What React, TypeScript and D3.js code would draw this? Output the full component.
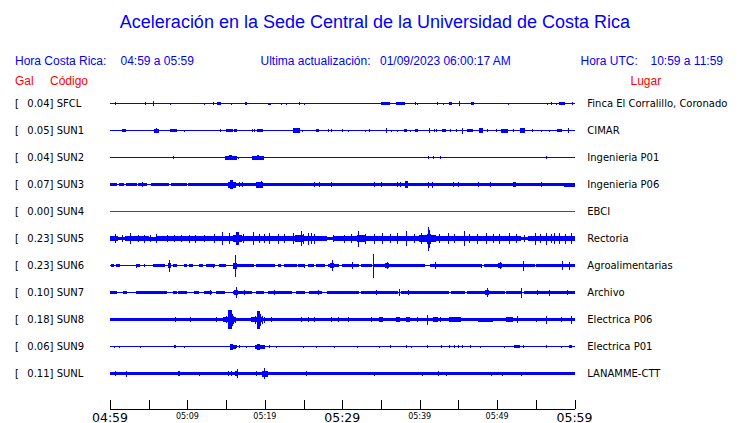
import React from "react";
import * as d3 from "d3";

// ---------- data ----------
const stationCodes = ["SFCL", "SUN1", "SUN2", "SUN3", "SUN4", "SUN5", "SUN6", "SUN7", "SUN8", "SUN9", "SUNL"];
const peakGal = [0.04, 0.05, 0.04, 0.07, 0.0, 0.23, 0.23, 0.1, 0.18, 0.06, 0.11];
const places = [
  "Finca El Corralillo, Coronado", "CIMAR", "Ingenieria P01", "Ingenieria P06", "EBCI", "Rectoria",
  "Agroalimentarias", "Archivo", "Electrica P06", "Electrica P01", "LANAMME-CTT",
];
const stationActive = [true, true, true, true, false, true, true, true, true, true, true];

// minutes after 04:59
const tickMinutes = [0, 5, 10, 15, 20, 25, 30, 35, 40, 45, 50, 55, 60];
const tickLabels = ["04:59", "", "05:09", "", "05:19", "", "05:29", "", "05:39", "", "05:49", "", "05:59"];
const majorLabels = ["04:59", "05:29", "05:59"];

// Base envelope segments: [startMin, endMin, halfAmplitude]
const sfclBase = [[0, 60, 0.5]];
const sun1Base = [[0, 60, 0.5]];
const sun2Base = [[0, 60, 0.5]];
const sun3Base = [
  [0, 0.86, 1.5], [1.29, 1.72, 1.5], [2.15, 3.44, 1.5], [3.66, 4.73, 1.5], [5.38, 5.59, 1.5],
  [5.81, 6.88, 1.5], [7.1, 7.53, 1.5], [7.96, 8.82, 1.5], [9.03, 9.89, 1.5], [10.11, 11.4, 1.5],
  [11.61, 60, 1.5],
];
const sun4Base = [[0, 60, 0.5]];
// SUN5: half-amplitude of the noise band, minute by minute
const sun5Minute = [
  2.2, 1.8, 2.5, 2.2, 2.2, 2, 2.5, 2.2, 2.2, 2.5, 2.5, 2.2, 2.2, 2.8, 2.8, 2.8, 3.5, 2.5, 2.8, 2.8,
  2.5, 2.8, 2.5, 2.8, 3.2, 2.8, 2.8, 2.2, 1.8, 2.2, 2.2, 2.5, 3.5, 2.8, 2.8, 2.8, 2.5, 2.8, 2.8, 2.5,
  3.2, 3.2, 2.5, 2.8, 2.8, 2.8, 2.5, 2.5, 2.5, 2.2, 2.5, 2.2, 2.2, 1.8, 2.2, 2.5, 2.5, 2.5, 2.5, 2.5,
];
const sun6Base = [
  [0.22, 0.43, 1.5], [0.86, 1.29, 1.5], [3.44, 3.87, 1.5], [5.59, 7.1, 1.5], [8.17, 8.6, 1.5],
  [9.68, 9.89, 1.5], [10.32, 10.62, 1.5], [11.61, 11.91, 1.5], [12.47, 13.55, 1.5], [14.19, 14.92, 1.5],
  [15.91, 16.56, 1.5], [16.77, 17.85, 1.5], [18.06, 18.49, 1.5], [18.92, 19.14, 1.5], [19.35, 19.78, 1.5],
  [20.0, 20.43, 1.5], [20.65, 21.29, 1.5], [21.72, 22.06, 1.5], [22.58, 24.09, 1.5], [24.3, 25.16, 1.5],
  [25.59, 26.24, 1.5], [26.67, 27.74, 1.5], [28.26, 29.46, 1.5], [29.98, 32.04, 1.5], [32.47, 33.76, 1.5],
  [34.19, 40.65, 1.5], [41.42, 44.09, 1.5], [44.3, 47.96, 1.5], [48.39, 53.12, 1.5], [53.33, 54.84, 1.5],
  [55.05, 60, 1.5],
];
const sun7Base = [
  [0, 0.86, 1.5], [1.72, 2.15, 1.5], [3.44, 5.59, 1.5], [5.81, 6.24, 1.5], [6.45, 7.31, 1.5],
  [8.17, 8.6, 1.5], [8.82, 9.89, 1.5], [10.97, 11.48, 1.5], [12.26, 13.12, 1.5], [13.76, 14.84, 1.5],
  [15.91, 18.28, 1.5], [18.92, 19.78, 1.5], [20.43, 23.44, 1.5], [24.09, 25.16, 1.5], [25.81, 27.31, 1.5],
  [28.09, 30.75, 1.5], [30.97, 32.04, 1.5], [32.47, 37.2, 1.5], [37.63, 42.37, 1.5], [42.58, 43.66, 1.5],
  [44.09, 45.81, 1.5], [46.24, 50.97, 1.5], [51.18, 53.12, 1.5], [53.55, 60, 1.5],
];
const sun8Base = [[0, 4.7, 1.7], [4.7, 60, 1.4]];
const sun9Base = [[0, 60, 0.5]];
const sunlBase = [[0, 60, 1.5]];

// Events: [minute, halfAmplitude, widthMinutes]
const sfclEvents = [
  [0.73, 1.2, 0], [4.6, 1.5, 0], [5.63, 2.3, 0], [7.78, 1, 0], [12.26, 1, 0], [13.33, 1.2, 0],
  [14.06, 1.3, 0.3], [15.66, 1, 0], [17.55, 1.2, 0.15], [20.6, 1, 0.15], [22.19, 1, 0], [22.75, 1, 0],
  [24.47, 1.2, 0], [25.16, 1, 0], [35.57, 1.3, 1.08], [37.55, 1.5, 1.03], [39.44, 1.2, 0], [39.78, 1, 0],
  [42.24, 1.2, 0], [43.14, 1, 0], [43.96, 1.2, 0.2], [45.2, 2.3, 0], [46.8, 1.3, 0.3], [51.53, 1, 0],
  [56.56, 1, 0], [57.08, 1.2, 0], [57.63, 1, 0], [58.37, 1.5, 0.65], [59.78, 1.2, 0],
];
const sun1Events = [
  [1.81, 1.3, 0.3], [6.02, 2, 0.6], [6.0, 2.7, 0], [8.17, 1.5, 0.8], [9.59, 1, 0], [12.26, 0.8, 0],
  [14.24, 1.5, 0], [15.48, 1.5, 0.8], [16.26, 1.3, 0.25], [18.37, 1.2, 0], [18.62, 1.2, 0], [19.35, 1.5, 0.65],
  [24.09, 2.2, 0.65], [24.82, 1, 0], [26.8, 1.3, 0.25], [28.17, 1.5, 0], [28.6, 1.5, 0], [29.98, 1.2, 0],
  [30.84, 1, 0], [32.99, 1, 0], [33.51, 1.2, 0], [35.7, 2.5, 0], [36.34, 1, 0], [37.2, 1, 0],
  [38.15, 1.3, 0.25], [38.8, 1, 0], [39.57, 1.3, 0.3], [41.29, 2.5, 0], [41.94, 1.3, 0], [42.19, 1.3, 0],
  [43.14, 1.3, 0.3], [44.0, 1.2, 0], [44.82, 1.2, 0], [45.51, 3, 0], [46.54, 1.3, 0.6], [47.96, 2.3, 0.4],
  [48.82, 1.2, 0], [49.89, 1.2, 0], [50.97, 2, 0.7], [52.13, 1.3, 0], [53.33, 2.2, 0.5], [54.54, 1.2, 0],
  [55.7, 1, 0], [56.77, 1, 0], [58.02, 1.3, 0.5], [59.27, 2.2, 0],
];
const sun2Events = [
  [8.26, 1.2, 0], [8.47, 0.8, 0], [15.61, 2, 1.5], [15.6, 2.7, 0.2], [16.65, 1, 0], [19.14, 2, 1.4],
  [19.1, 2.7, 0.2], [35.05, 0.8, 0], [41.08, 1.2, 0], [41.76, 1.2, 0], [42.71, 1.2, 0], [44.82, 0.8, 0],
  [52.6, 0.8, 0], [56.34, 1.2, 0], [58.37, 0.8, 0],
];
const sun3Events = [
  [4.2, 2.2, 0], [15.7, 3, 0.9], [15.7, 4.5, 0.25], [16.77, 2.5, 0], [17.07, 2.5, 0], [19.3, 3, 0.7],
  [19.6, 3.5, 0], [26.37, 2.5, 0], [27.1, 2.5, 0], [28.6, 2.5, 0], [34.19, 2.5, 0], [35.05, 2.5, 0],
  [37.2, 2.5, 0], [37.46, 2.5, 0], [38.28, 3.3, 0.2], [41.08, 3, 0], [41.72, 3, 0], [44.43, 2.5, 0],
  [45.03, 2.5, 0], [47.66, 2.5, 0], [49.12, 2.5, 0], [52.26, 2.3, 0.3], [55.78, 2.5, 0], [59.35, 2, 1.3],
];
const sun4Events: number[][] = [];
const sun5Events = [
  [0.65, 4.3, 0], [2.71, 5.3, 0], [3.66, 3.7, 0], [4.52, 4, 0], [6.02, 4.3, 0], [9.25, 3.7, 0],
  [10.32, 4, 0], [12.26, 3.7, 0], [14.49, 6.3, 0], [15.48, 5.3, 0], [16.47, 6.3, 0.2], [18.49, 6.3, 0],
  [19.35, 4.3, 0], [20.65, 5.7, 0], [21.72, 5, 0], [23.66, 5.7, 0], [24.73, 7.3, 0], [25.59, 6, 0],
  [26.45, 5, 0], [28.82, 3.7, 0], [32.13, 8, 0], [34.19, 5, 0], [35.14, 5.7, 0], [37.2, 5.7, 0],
  [38.28, 7.3, 0], [41.08, 12, 0], [41.29, 9, 0], [41.2, 5, 0.5], [43.66, 5.3, 0], [45.81, 7.3, 0],
  [47.53, 5, 0], [48.6, 5.7, 0], [50.32, 5, 0], [51.61, 5.3, 0], [54.97, 6, 0], [56.34, 6, 0],
  [57.42, 5.7, 0], [58.06, 5.3, 0], [59.57, 5.7, 0],
  [1.6, 3.5, 0], [5.2, 3.7, 0], [7.4, 3.5, 0], [8.3, 3.8, 0], [11.1, 4, 0], [13.5, 4.3, 0],
  [17.2, 4.5, 0], [19.9, 4.7, 0], [22.6, 4.5, 0], [25.0, 5, 0], [26.0, 5.1, 0], [30.3, 4, 0],
  [31.2, 4.3, 0], [33.0, 5, 0], [36.2, 4.5, 0], [39.3, 4.5, 0], [40.2, 5.3, 0], [42.5, 4.8, 0],
  [44.5, 4.8, 0], [46.5, 4.7, 0], [49.5, 4.3, 0], [52.5, 4.1, 0], [53.5, 3.9, 0], [55.6, 4.7, 0],
  [57.0, 4.7, 0], [58.8, 5, 0],
];
const sun6Events = [
  [3.44, 2, 0], [4.52, 1.5, 0], [7.74, 6, 0], [7.7, 2.5, 0.3], [13.33, 2, 0], [16.22, 11, 0],
  [16.2, 3, 0.4], [25.16, 2, 0], [28.73, 5.5, 0], [28.7, 2.5, 0.4], [31.27, 3.5, 0], [33.98, 12, 0],
  [35.83, 3.5, 0], [35.8, 2.2, 0.3], [42.06, 3.5, 0], [47.96, 2, 0], [50.45, 3.5, 0], [50.4, 2.3, 0.4],
  [53.46, 5, 0], [58.49, 4.5, 0], [59.35, 4, 0],
];
const sun7Events = [
  [12.95, 2.3, 0], [16.34, 5.5, 0], [16.3, 2.5, 0.4], [17.42, 2.5, 0], [21.2, 2.5, 0], [26.88, 2.3, 0],
  [34.41, 2.5, 0], [37.42, 3.3, 0], [38.58, 2.5, 0], [48.73, 4.5, 0], [48.7, 2.5, 0.4], [53.2, 5, 0],
  [55.27, 2.5, 0], [56.77, 3, 0], [59.14, 2.5, 0],
];
const sun8Events = [
  [8.52, 2.7, 0], [10.41, 2.3, 0], [13.76, 2.3, 0],
  [15.35, 2.5, 1.4], [15.48, 9.5, 0.3], [15.75, 6, 0.12], [15.95, 4, 0], [16.15, 3, 0], [15.05, 3.5, 0],
  [19.0, 2.5, 1.5], [19.14, 9, 0.25], [19.5, 6, 0], [19.7, 4, 0], [18.8, 4, 0], [19.9, 3, 0],
  [20.86, 2.3, 0], [24.73, 2.3, 0], [25.59, 2.3, 0],
  [26.45, 2.3, 0], [28.6, 2.3, 0], [29.46, 2.3, 0], [30.75, 2.3, 0], [33.76, 2.3, 0], [35.05, 2.5, 0.4],
  [37.2, 2.3, 0.5], [38.5, 2.3, 0.5], [39.78, 2.3, 0], [40.99, 5, 0], [42.0, 2.3, 0.5], [42.71, 2.3, 0],
  [44.6, 2.3, 1.4], [48.5, 2, 1.9], [51.6, 2.3, 0.8], [52.69, 3.3, 0], [55.05, 2, 0], [56.34, 4, 0],
  [58.28, 2.3, 0], [59.57, 4, 0],
];
const sun9Events = [
  [0.56, 1, 0], [1.29, 1, 0], [1.59, 0.8, 0], [3.96, 1, 0], [8.39, 1.2, 0.15], [9.59, 1, 0],
  [15.9, 2, 0.7], [15.7, 3, 0.2], [16.34, 1.3, 0], [16.77, 1.3, 0], [17.63, 1, 0], [19.35, 2, 1.2],
  [19.2, 3, 0.2], [20.56, 1.2, 0], [21.5, 1, 0], [25.03, 1, 0], [26.67, 1, 0], [28.95, 1, 0],
  [31.91, 1, 0], [34.84, 1, 0], [36.26, 1.2, 0], [38.28, 1.2, 0], [38.92, 1, 0], [40.99, 1.2, 0],
  [42.8, 1.3, 0], [43.9, 1.2, 0], [44.5, 1.2, 0], [45.0, 1.2, 0], [45.5, 1.2, 0], [46.58, 1.2, 0],
  [47.87, 1, 0], [50.97, 1, 0], [52.56, 1.3, 0.6], [53.46, 1.2, 0], [56.34, 1.3, 0], [58.28, 1, 0],
  [59.48, 1.3, 0.3],
];
const sunlEvents = [
  [0.73, 2.3, 0], [2.15, 3, 0], [8.9, 2.7, 0.2], [11.61, 2, 0], [15.27, 2.5, 0], [15.7, 2.5, 0],
  [16.47, 4.5, 0], [16.3, 2.5, 0.3], [18.92, 2.5, 0], [20.0, 3, 0.7], [19.91, 5.5, 0], [25.38, 2.5, 0],
  [34.11, 2, 0], [40.43, 2, 0], [42.49, 2.3, 0], [43.44, 2, 0], [49.25, 2, 0], [50.75, 2, 0],
  [53.12, 2, 0], [59.4, 1.8, 1.2],
];

const sun5Base = sun5Minute.map((a, i) => [i, i + 1, a]);
const baseList = [sfclBase, sun1Base, sun2Base, sun3Base, sun4Base, sun5Base, sun6Base, sun7Base, sun8Base, sun9Base, sunlBase];
const eventList = [sfclEvents, sun1Events, sun2Events, sun3Events, sun4Events, sun5Events, sun6Events, sun7Events, sun8Events, sun9Events, sunlEvents];

// ---------- layout ----------
const W = 740;
const H = 423;
const BLUE = "#0000ff";
const RED = "#ff0000";
const SANS = "'Liberation Sans', Arial, sans-serif";
const DEJAVU = "'DejaVu Sans', sans-serif";

export default function App() {
  const x = d3.scaleLinear().domain([0, 60]).range([110, 574.5]);
  const row = d3.scalePoint<string>().domain(stationCodes).range([103.5, 373.5]);
  const amp = d3.scaleLinear().domain([0, 13.5]).range([0, 13.5]);

  const cols = d3.range(Math.floor(x(0)), Math.ceil(x(60)));

  const traces = stationCodes.map((code, si) => {
    const base = baseList[si];
    const events = eventList[si];
    const pts = cols.map((c) => {
      const t0 = x.invert(c);
      const t1 = x.invert(c + 1);
      let a = 0.5;
      for (const [s, e, v] of base) if (s < t1 && e > t0) a = Math.max(a, v);
      for (const [t, v, w] of events) {
        const lo = t - (w || 0) / 2;
        const hi = t + (w || 0) / 2;
        if (lo < t1 && hi >= t0) a = Math.max(a, v);
      }
      return { x: c, a };
    });
    pts.push({ x: x(60), a: pts[pts.length - 1].a });
    const y0 = row(code)!;
    const area = d3
      .area<{ x: number; a: number }>()
      .x((d) => d.x)
      .y0((d) => y0 + amp(d.a))
      .y1((d) => y0 - amp(d.a))
      .curve(d3.curveStepAfter);
    return area(pts) || "";
  });

  const axisY = 409;

  return (
    <svg
      width={W}
      height={H}
      style={{ position: "absolute", left: 0, top: 0, background: "#fff", display: "block" }}
    >
      <rect x={0} y={0} width={W} height={H} fill="#fff" />
      <text x={375} y={28} textAnchor="middle" fontFamily={SANS} fontSize={18} fill={BLUE}>
        Aceleración en la Sede Central de la Universidad de Costa Rica
      </text>

      <g fontFamily={SANS} fontSize={12} fill={BLUE}>
        <text x={15} y={65}>Hora Costa Rica:</text>
        <text x={120.5} y={65}>04:59 a 05:59</text>
        <text x={260.5} y={65}>Ultima actualización:</text>
        <text x={380} y={65}>01/09/2023 06:00:17 AM</text>
        <text x={580.5} y={65}>Hora UTC:</text>
        <text x={650.5} y={65}>10:59 a 11:59</text>
      </g>
      <g fontFamily={SANS} fontSize={12} fill={RED}>
        <text x={15} y={84.5}>Gal</text>
        <text x={50} y={84.5}>Código</text>
        <text x={630.5} y={84.5}>Lugar</text>
      </g>

      {stationCodes.map((code, i) => (
        <g key={code} fontFamily={DEJAVU} fontSize={10} fill="#000">
          <text x={15} y={row(code)! + 3.5}>[</text>
          <text x={27.3} y={row(code)! + 3.5}>{`${peakGal[i].toFixed(2)}] ${code}`}</text>
          <text x={587.3} y={row(code)! + 3.5}>{places[i]}</text>
        </g>
      ))}

      <g shapeRendering="crispEdges">
        {traces.map((d, i) => (
          <path key={stationCodes[i]} d={d} fill={stationActive[i] ? BLUE : RED} />
        ))}
      </g>

      <g shapeRendering="crispEdges" stroke="#000" strokeWidth={1}>
        <line x1={x(0)} x2={x(60)} y1={axisY + 0.5} y2={axisY + 0.5} />
        {tickMinutes.map((m) => (
          <line key={m} x1={Math.round(x(m)) + 0.5} x2={Math.round(x(m)) + 0.5} y1={axisY - 9} y2={axisY} />
        ))}
      </g>
      <g fontFamily={DEJAVU} fill="#000" textAnchor="middle">
        {tickMinutes.map((m, i) =>
          tickLabels[i] ? (
            majorLabels.includes(tickLabels[i]) ? (
              <text key={m} x={x(m)} y={421.5} fontSize={12.5}>{tickLabels[i]}</text>
            ) : (
              <text key={m} x={x(m)} y={419} fontSize={8}>{tickLabels[i]}</text>
            )
          ) : null
        )}
      </g>
    </svg>
  );
}
